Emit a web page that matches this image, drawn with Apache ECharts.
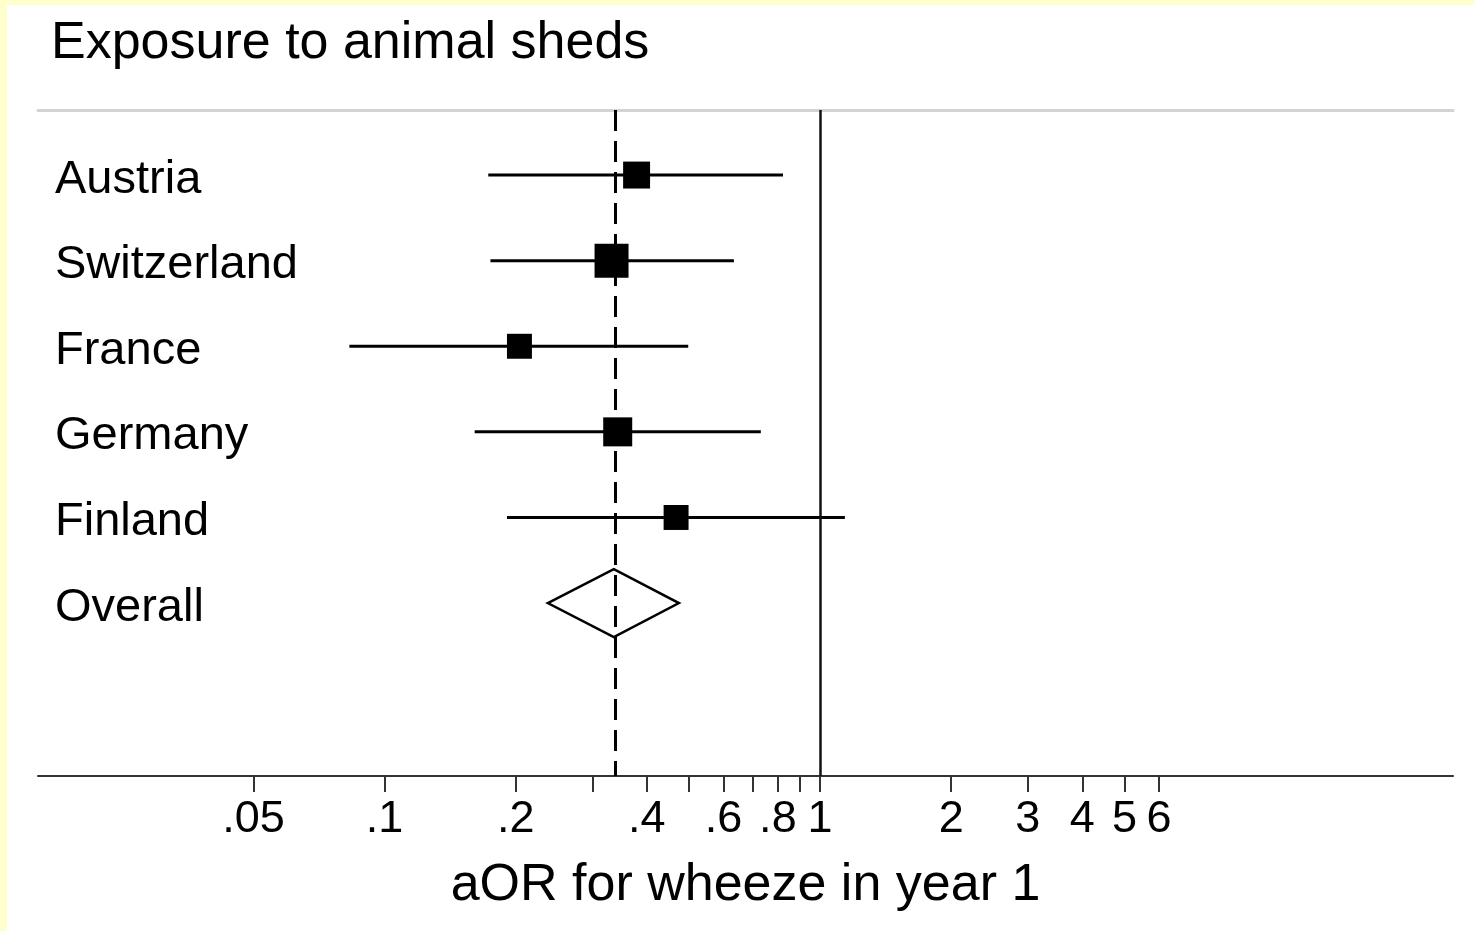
<!DOCTYPE html>
<html>
<head>
<meta charset="utf-8">
<script src="https://cdn.jsdelivr.net/npm/echarts@6/dist/echarts.min.js"></script>
<style>
  html, body { margin: 0; padding: 0; background: #ffffcc; }
  #chart { position: absolute; left: 7px; top: 5px; width: 1467px; height: 926px; background: #ffffff; }
</style>
</head>
<body>
<div id="chart"></div>
<script>
// Study-level adjusted odds ratios with 95% confidence intervals
const studies   = ['Austria', 'Switzerland', 'France', 'Germany', 'Finland'];
const estimates = [0.379, 0.332, 0.204, 0.343, 0.467];
const lowerCI   = [0.173, 0.175, 0.083, 0.161, 0.191];
const upperCI   = [0.822, 0.634, 0.498, 0.731, 1.14];
const weights   = [18.3, 29.1, 15.7, 21.2, 15.7];   // study weights (%)

// Pooled estimate
const overallLabel = 'Overall';
const overallEst = 0.336;
const overallLo  = 0.237;
const overallHi  = 0.474;

// Log-scale axis ticks
const tickValues   = [0.05, 0.1, 0.2, 0.3, 0.4, 0.5, 0.6, 0.7, 0.8, 0.9, 1, 2, 3, 4, 5, 6];
const labeledTicks = [0.05, 0.1, 0.2, 0.4, 0.6, 0.8, 1, 2, 3, 4, 5, 6];
const tickLabels   = ['.05', '.1', '.2', '.4', '.6', '.8', '1', '2', '3', '4', '5', '6'];
const axisRange    = [0.016, 28.4];

const FONT = '"Liberation Sans", Arial, Helvetica, sans-serif';
const lg = Math.log10;
const rowLabels = studies.concat([overallLabel]);

const ciData = studies.map((s, i) => [lg(lowerCI[i]), lg(upperCI[i]), i + 1]);
const pointData = studies.map((s, i) => [lg(estimates[i]), i + 1, weights[i]]);
const diamondData = [[lg(overallLo), lg(overallEst), lg(overallHi), studies.length + 1]];

const chart = echarts.init(document.getElementById('chart'));
chart.setOption({
  animation: false,
  backgroundColor: '#ffffff',
  textStyle: { fontFamily: FONT },
  title: {
    text: 'Exposure to animal sheds',
    left: 39, top: 8,
    textStyle: { fontFamily: FONT, fontSize: 52, fontWeight: 'normal', color: '#000' }
  },
  grid: { left: 31, right: 21, top: 105, bottom: 155 },
  xAxis: [{
    type: 'value',
    position: 'bottom',
    min: lg(axisRange[0]), max: lg(axisRange[1]),
    splitLine: { show: false },
    axisLine: { show: true, onZero: false, lineStyle: { color: '#333', width: 2 } },
    axisTick: { show: true, length: 16, lineStyle: { color: '#333', width: 2 },
                customValues: tickValues.map(lg) },
    axisLabel: {
      show: true, margin: 21, fontSize: 45, color: '#000', fontFamily: FONT,
      customValues: labeledTicks.map(lg),
      formatter: function (v) {
        let best = 0, d = Infinity;
        labeledTicks.forEach((t, i) => { const e = Math.abs(lg(t) - v); if (e < d) { d = e; best = i; } });
        return tickLabels[best];
      }
    },
    name: 'aOR for wheeze in year 1',
    nameLocation: 'middle', nameGap: 84,
    nameTextStyle: { fontSize: 52, color: '#000', fontFamily: FONT }
  }, {
    type: 'value',
    position: 'top',
    min: lg(axisRange[0]), max: lg(axisRange[1]),
    splitLine: { show: false },
    axisLine: { show: true, onZero: false, lineStyle: { color: '#d3d3d3', width: 3 } },
    axisTick: { show: false },
    axisLabel: { show: false }
  }],
  yAxis: {
    type: 'value',
    inverse: true,
    min: 0.24, max: 8.02,
    splitLine: { show: false },
    axisLine: { show: false },
    axisTick: { show: false },
    axisLabel: {
      inside: true, margin: 17, color: '#000', fontFamily: FONT,
      customValues: [1, 2, 3, 4, 5, 6],
      formatter: v => '{row|' + (rowLabels[Math.round(v) - 1] || '') + '}',
      rich: {
        row: { fontSize: 47, color: '#000', fontFamily: FONT, padding: [9, 0, 0, 0] }
      }
    }
  },
  series: [
    {
      // confidence interval whiskers
      type: 'custom',
      xAxisIndex: 0,
      encode: { x: [0, 1], y: 2 },
      data: ciData,
      silent: true,
      z: 3,
      renderItem: function (params, api) {
        const a = api.coord([api.value(0), api.value(2)]);
        const b = api.coord([api.value(1), api.value(2)]);
        return { type: 'line', shape: { x1: a[0], y1: a[1], x2: b[0], y2: b[1] },
                 style: { stroke: '#000', lineWidth: 3 } };
      }
    },
    {
      // point estimates, square area proportional to weight
      type: 'scatter',
      xAxisIndex: 0,
      data: pointData,
      symbol: 'rect',
      symbolSize: val => 6.3 * Math.sqrt(val[2]),
      itemStyle: { color: '#000', opacity: 1 },
      silent: true,
      z: 4,
      markLine: {
        silent: true,
        symbol: 'none',
        label: { show: false },
        data: [
          { xAxis: 0, lineStyle: { color: '#111', width: 2.5, type: 'solid' } },
          { xAxis: lg(overallEst), lineStyle: { color: '#000', width: 3, type: [21, 10] } }
        ]
      }
    },
    {
      // pooled estimate diamond
      type: 'custom',
      xAxisIndex: 0,
      encode: { x: [0, 1, 2], y: 3 },
      data: diamondData,
      silent: true,
      z: 5,
      renderItem: function (params, api) {
        const row = api.value(3);
        const l = api.coord([api.value(0), row]);
        const c = api.coord([api.value(1), row]);
        const r = api.coord([api.value(2), row]);
        const h = 34;
        return {
          type: 'polygon',
          shape: { points: [[l[0], l[1]], [c[0], c[1] - h], [r[0], r[1]], [c[0], c[1] + h]] },
          style: { fill: 'none', stroke: '#000', lineWidth: 2.5 }
        };
      }
    }
  ]
});
</script>
</body>
</html>
